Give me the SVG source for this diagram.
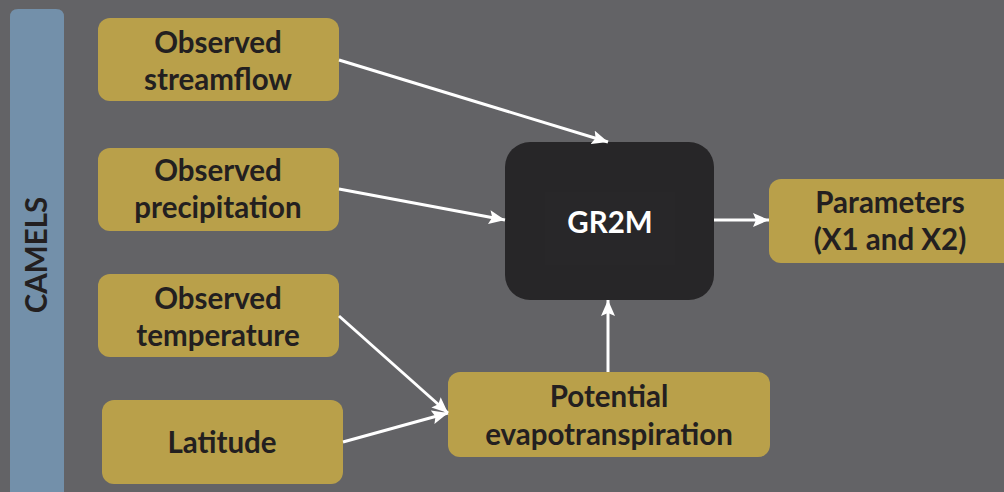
<svg xmlns="http://www.w3.org/2000/svg" width="1004" height="492" viewBox="0 0 1004 492">
<style>
.box{fill:#b9a04a;}
.t{font-family:Lato,"Open Sans","Liberation Sans",sans-serif;font-weight:bold;font-size:29.5px;fill:#231f20;text-anchor:middle;}
.c{stroke:#ffffff;stroke-width:3;fill:none;marker-end:url(#ah);}
</style>
<defs>
<marker id="ah" viewBox="0 0 16 14" refX="16" refY="7" markerWidth="16" markerHeight="14" markerUnits="userSpaceOnUse" orient="auto">
<path d="M0,0 L16,7 L0,14 L3,7 z" fill="#ffffff"/>
</marker>
</defs>
<rect x="0" y="0" width="1004" height="492" fill="#636366"/>
<g id="camels">
<path d="M10,17 Q10,9 18,9 L56,9 Q64,9 64,17 L64,492 L10,492 z" fill="#7390aa"/>
<text class="t" transform="translate(47,255) rotate(-90)">CAMELS</text>
</g>
<g id="streamflow">
<rect class="box" x="98" y="18" width="241" height="83" rx="12"/>
<text class="t" x="218" y="53">Observed</text>
<text class="t" x="218" y="90">streamflow</text>
</g>
<g id="precipitation">
<rect class="box" x="98" y="148" width="241" height="83" rx="12"/>
<text class="t" x="218" y="181">Observed</text>
<text class="t" x="218" y="218">precipitation</text>
</g>
<g id="temperature">
<rect class="box" x="98" y="274" width="241" height="83" rx="12"/>
<text class="t" x="218" y="309">Observed</text>
<text class="t" x="218" y="346">temperature</text>
</g>
<g id="latitude">
<rect class="box" x="102" y="400" width="241" height="84" rx="12"/>
<text class="t" x="222" y="453">Latitude</text>
</g>
<g id="pet">
<rect class="box" x="448" y="372" width="322" height="85" rx="12"/>
<text class="t" x="609" y="407">Potential</text>
<text class="t" x="609" y="445">evapotranspiration</text>
</g>
<g id="gr2m">
<rect x="505" y="142" width="209" height="158" rx="25" fill="#272628"/>
<rect x="545" y="192" width="130" height="73" fill="#282729"/>
<text class="t" x="610" y="233" style="fill:#ffffff">GR2M</text>
</g>
<g id="parameters">
<rect class="box" x="769" y="179" width="250" height="84" rx="12"/>
<text class="t" x="890" y="213">Parameters</text>
<text class="t" x="890" y="250">(X1 and X2)</text>
</g>
<g id="connectors">
<line class="c" x1="339" y1="60" x2="608" y2="142"/>
<line class="c" x1="339" y1="189" x2="505" y2="220"/>
<line class="c" x1="714" y1="220" x2="769" y2="220"/>
<line class="c" x1="608" y1="372" x2="608" y2="300"/>
<line class="c" x1="339" y1="316" x2="448" y2="413"/>
<line class="c" x1="343" y1="442" x2="448" y2="413"/>
</g>
</svg>
